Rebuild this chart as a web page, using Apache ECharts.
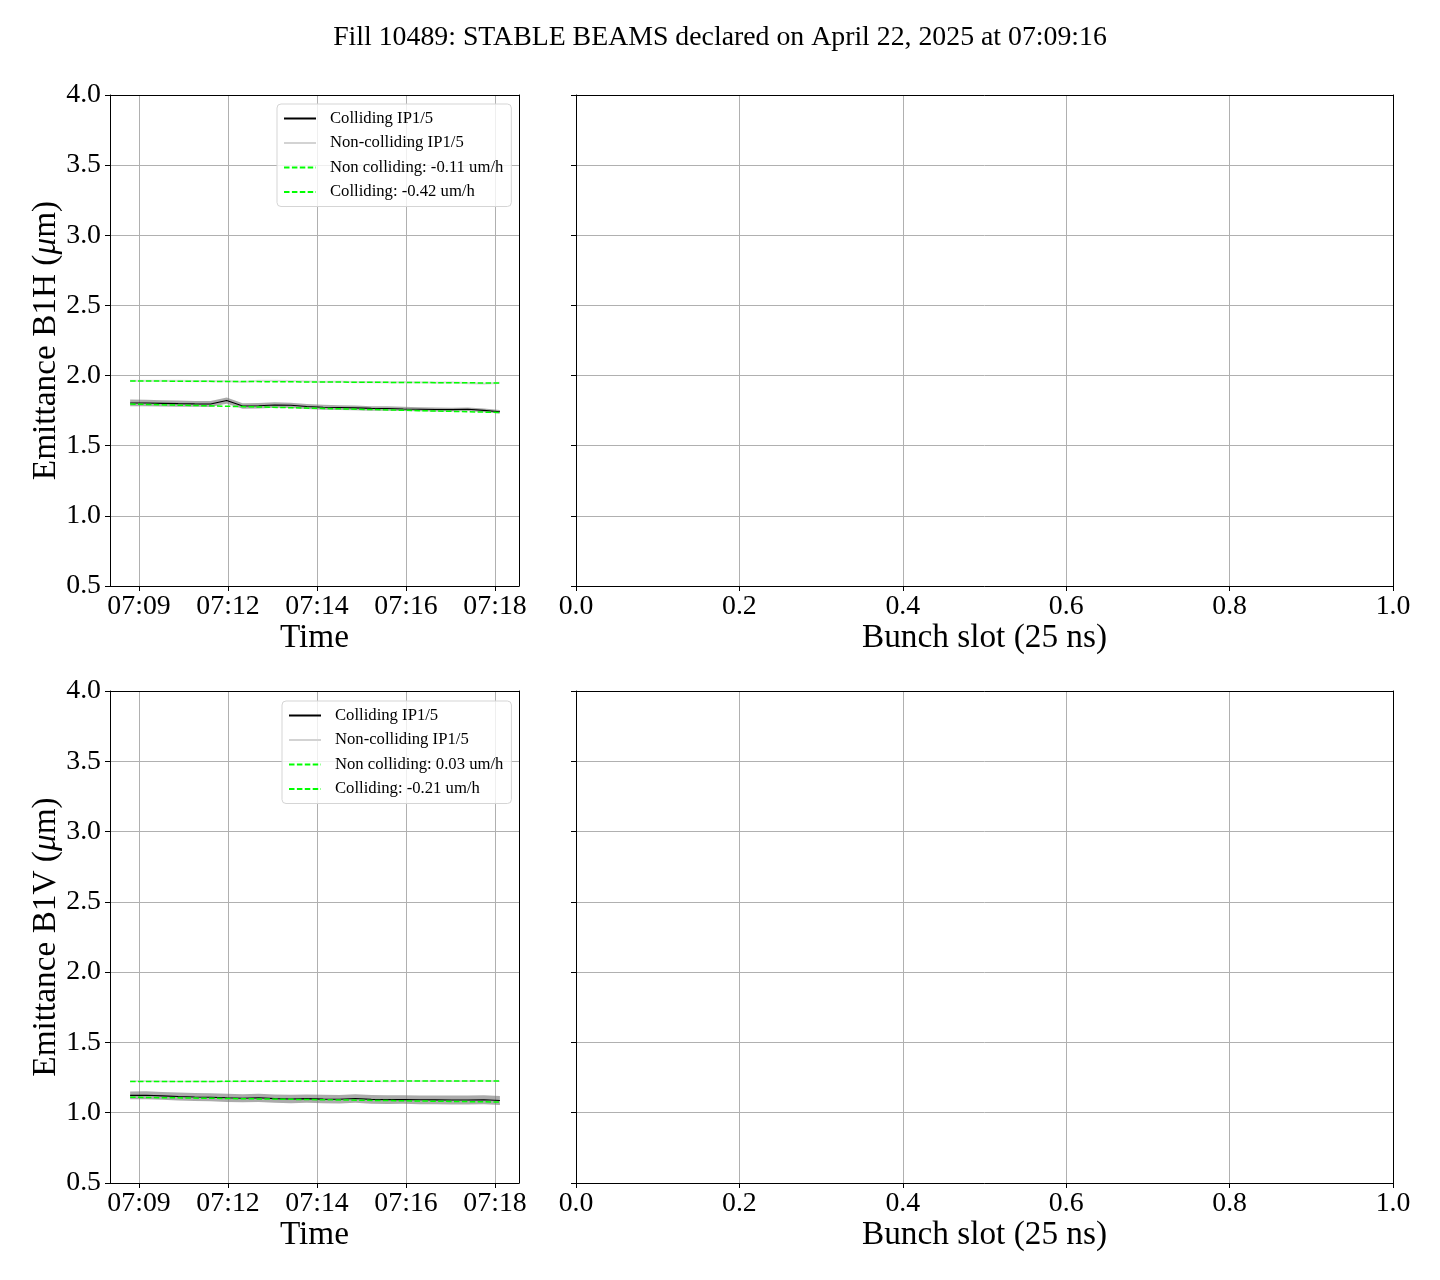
<!DOCTYPE html>
<html><head><meta charset="utf-8">
<script src="https://cdn.jsdelivr.net/npm/echarts@6/dist/echarts.min.js"></script>
<style>html,body{margin:0;padding:0;background:#fff}#c{width:1440px;height:1280px}</style>
</head><body><div id="c"></div>
<script>
const titleText = 'Fill 10489: STABLE BEAMS declared on April 22, 2025 at 07:09:16';
// time in minutes after 07:00
const timeMinutes = [9.80,10.16,10.52,10.88,11.25,11.61,11.97,12.33,12.69,13.05,13.41,13.77,14.14,14.50,14.86,15.22,15.58,15.94,16.30,16.66,17.03,17.39,17.75,18.11];
const timeTickValues = [10,12,14,16,18];
const timeTickLabels = ['07:09','07:12','07:14','07:16','07:18'];
const fitTimes = [9.80, 18.11];

const b1hColliding    = [1.805,1.804,1.802,1.800,1.798,1.797,1.822,1.783,1.785,1.790,1.788,1.779,1.774,1.772,1.770,1.766,1.765,1.762,1.760,1.758,1.757,1.760,1.752,1.742];
const b1hCollidingStd = [0.024,0.023,0.022,0.022,0.021,0.021,0.022,0.020,0.020,0.019,0.019,0.018,0.018,0.017,0.017,0.016,0.016,0.015,0.015,0.014,0.014,0.013,0.013,0.012];
const b1hNonColliding    = [1.963,1.963,1.962,1.962,1.961,1.960,1.960,1.955,1.962,1.963,1.960,1.958,1.955,1.957,1.954,1.953,1.952,1.953,1.951,1.950,1.951,1.946,1.943,1.948];
const b1hNonCollidingStd = [0.008,0.008,0.008,0.008,0.008,0.008,0.008,0.008,0.008,0.008,0.008,0.008,0.008,0.008,0.008,0.008,0.008,0.008,0.008,0.008,0.008,0.008,0.008,0.008];
const b1hFitNonColliding = [1.962, 1.947];
const b1hFitColliding    = [1.797, 1.737];

const b1vColliding    = [1.123,1.124,1.120,1.115,1.112,1.110,1.106,1.103,1.106,1.100,1.098,1.100,1.097,1.096,1.101,1.095,1.093,1.094,1.092,1.091,1.090,1.090,1.092,1.087];
const b1vCollidingStd = [0.028,0.028,0.028,0.028,0.029,0.029,0.029,0.029,0.029,0.030,0.030,0.030,0.030,0.030,0.030,0.031,0.031,0.031,0.031,0.031,0.032,0.032,0.032,0.032];
const b1vNonColliding    = [1.224,1.225,1.223,1.222,1.223,1.222,1.222,1.223,1.222,1.223,1.224,1.223,1.224,1.225,1.224,1.224,1.223,1.224,1.225,1.225,1.224,1.225,1.226,1.224];
const b1vNonCollidingStd = [0.006,0.006,0.006,0.006,0.006,0.006,0.006,0.006,0.006,0.006,0.006,0.006,0.006,0.006,0.006,0.006,0.006,0.006,0.006,0.006,0.006,0.006,0.006,0.006];
const b1vFitNonColliding = [1.222, 1.226];
const b1vFitColliding    = [1.110, 1.076];

const legendTop = ['Colliding IP1/5','Non-colliding IP1/5','Non colliding: -0.11 um/h','Colliding: -0.42 um/h'];
const legendBottom = ['Colliding IP1/5','Non-colliding IP1/5','Non colliding: 0.03 um/h','Colliding: -0.21 um/h'];

const FONT = "'Liberation Serif', 'DejaVu Serif', serif";
const zip = (xs, ys) => xs.map((x, i) => [x, ys[i]]);

function timeAxis(g) {
  return {
    type: 'value', gridIndex: g, min: 9.348, max: 18.539,
    axisLine: { onZero: false, lineStyle: { color: '#000', width: 1 } },
    axisTick: { customValues: timeTickValues, length: 5, lineStyle: { color: '#000' } },
    axisLabel: { customValues: timeTickValues, margin: 7, fontFamily: FONT, fontSize: 27.8, color: '#000',
      formatter: v => timeTickLabels[timeTickValues.indexOf(Math.round(v))] || '' },
    splitLine: { show: true, lineStyle: { color: '#b0b0b0', width: 1 } },
    name: 'Time', nameLocation: 'middle', nameGap: 33,
    nameTextStyle: { fontFamily: FONT, fontSize: 33.3, color: '#000' }
  };
}
function slotAxis(g) {
  return {
    type: 'value', gridIndex: g, min: 0, max: 1, interval: 0.2,
    axisLine: { onZero: false, lineStyle: { color: '#000', width: 1 } },
    axisTick: { length: 5, lineStyle: { color: '#000' } },
    axisLabel: { margin: 7, fontFamily: FONT, fontSize: 27.8, color: '#000', formatter: v => v.toFixed(1) },
    splitLine: { show: true, lineStyle: { color: '#b0b0b0', width: 1 } },
    name: 'Bunch slot (25 ns)', nameLocation: 'middle', nameGap: 33,
    nameTextStyle: { fontFamily: FONT, fontSize: 33.3, color: '#000' }
  };
}
function emitAxis(g, label, showLabels) {
  const ax = {
    type: 'value', gridIndex: g, min: 0.5, max: 4.0, interval: 0.5,
    axisLine: { onZero: false, lineStyle: { color: '#000', width: 1 } },
    axisTick: { length: 5, lineStyle: { color: '#000' } },
    axisLabel: { show: showLabels, margin: 9, padding: [4, 0, 0, 0], fontFamily: FONT, fontSize: 27.8, color: '#000', formatter: v => v.toFixed(1) },
    splitLine: { show: true, lineStyle: { color: '#b0b0b0', width: 1 } }
  };
  if (label) {
    ax.name = '{n|' + label + ' (}{i|μ}{n|m)}';
    ax.nameLocation = 'middle';
    ax.nameGap = 47;
    ax.nameTextStyle = { rich: {
      n: { fontFamily: FONT, fontSize: 33.3, color: '#000' },
      i: { fontFamily: FONT, fontSize: 33.3, color: '#000', fontStyle: 'italic' }
    } };
  }
  return ax;
}
function borderX(g) {
  return { type: 'value', gridIndex: g, position: 'top', min: 0, max: 1,
    axisLine: { onZero: false, lineStyle: { color: '#000', width: 1 } },
    axisTick: { show: false }, axisLabel: { show: false }, splitLine: { show: false } };
}
function borderY(g) {
  return { type: 'value', gridIndex: g, position: 'right', min: 0, max: 1,
    axisLine: { onZero: false, lineStyle: { color: '#000', width: 1 } },
    axisTick: { show: false }, axisLabel: { show: false }, splitLine: { show: false } };
}

function bandSeries(xi, yi, mean, std, color) {
  return {
    type: 'custom', xAxisIndex: xi, yAxisIndex: yi, silent: true, z: 1, clip: true,
    data: [0],
    renderItem: function (params, api) {
      const upper = timeMinutes.map((t, i) => api.coord([t, mean[i] + std[i]]));
      const lower = timeMinutes.map((t, i) => api.coord([t, mean[i] - std[i]])).reverse();
      return { type: 'polygon', shape: { points: upper.concat(lower) }, style: { fill: color, stroke: null } };
    }
  };
}
function lineSeries(name, xi, yi, xs, ys, color, width, dashed, z) {
  return { type: 'line', name: name, xAxisIndex: xi, yAxisIndex: yi, symbol: 'none', data: zip(xs, ys),
    lineStyle: { color: color, width: width, type: dashed ? [5.5, 2.4] : 'solid' }, itemStyle: { color: color }, z: z };
}

function panelSeries(xi, yi, coll, collStd, nc, ncStd, fitNc, fitC, names) {
  return [
    bandSeries(xi, yi, nc, ncStd, 'rgba(205,205,205,0.6)'),
    bandSeries(xi, yi, coll, collStd, 'rgba(120,120,120,0.62)'),
    lineSeries(names[1], xi, yi, timeMinutes, nc, '#d3d3d3', 1, false, 3),
    lineSeries(names[0], xi, yi, timeMinutes, coll, '#000000', 1.1, false, 3),
    lineSeries(names[2], xi, yi, fitTimes, fitNc, '#00ff00', 1.5, true, 4),
    lineSeries(names[3], xi, yi, fitTimes, fitC, '#00ff00', 1.5, true, 4)
  ];
}

function legendAt(left, top, names) {
  return {
    left: left, top: top, orient: 'vertical', data: names,
    itemWidth: 32, itemHeight: 12, itemGap: 7.5, selectedMode: false,
    itemStyle: { opacity: 0 },
    textStyle: { fontFamily: FONT, fontSize: 16.67, color: '#000', lineHeight: 17, padding: [0, 0, 0, 9] },
    backgroundColor: 'rgba(255,255,255,0.8)', borderColor: '#d5d5d5', borderWidth: 1, borderRadius: 4,
    padding: [6, 8, 6, 6]
  };
}

const option = {
  animation: false,
  backgroundColor: '#fff',
  title: { text: titleText, left: 'center', top: 19,
    textStyle: { fontFamily: FONT, fontSize: 27.8, fontWeight: 'normal', color: '#000' } },
  grid: [
    { left: 110, top: 95, width: 409, height: 491 },
    { left: 576, top: 95, width: 817, height: 491 },
    { left: 110, top: 691, width: 409, height: 492 },
    { left: 576, top: 691, width: 817, height: 492 }
  ],
  xAxis: [timeAxis(0), slotAxis(1), timeAxis(2), slotAxis(3), borderX(0), borderX(1), borderX(2), borderX(3)],
  yAxis: [emitAxis(0, 'Emittance B1H', true), emitAxis(1, null, false), emitAxis(2, 'Emittance B1V', true), emitAxis(3, null, false),
          borderY(0), borderY(1), borderY(2), borderY(3)],
  legend: [legendAt(277, 104, legendTop), legendAt(282, 701, legendBottom)],
  series: [].concat(
    panelSeries(0, 0, b1hColliding, b1hCollidingStd, b1hNonColliding, b1hNonCollidingStd, b1hFitNonColliding, b1hFitColliding, legendTop),
    panelSeries(2, 2, b1vColliding, b1vCollidingStd, b1vNonColliding, b1vNonCollidingStd, b1vFitNonColliding, b1vFitColliding, legendBottom)
  )
};
const chart = echarts.init(document.getElementById('c'), null, { renderer: 'canvas' });
chart.setOption(option);
</script></body></html>
